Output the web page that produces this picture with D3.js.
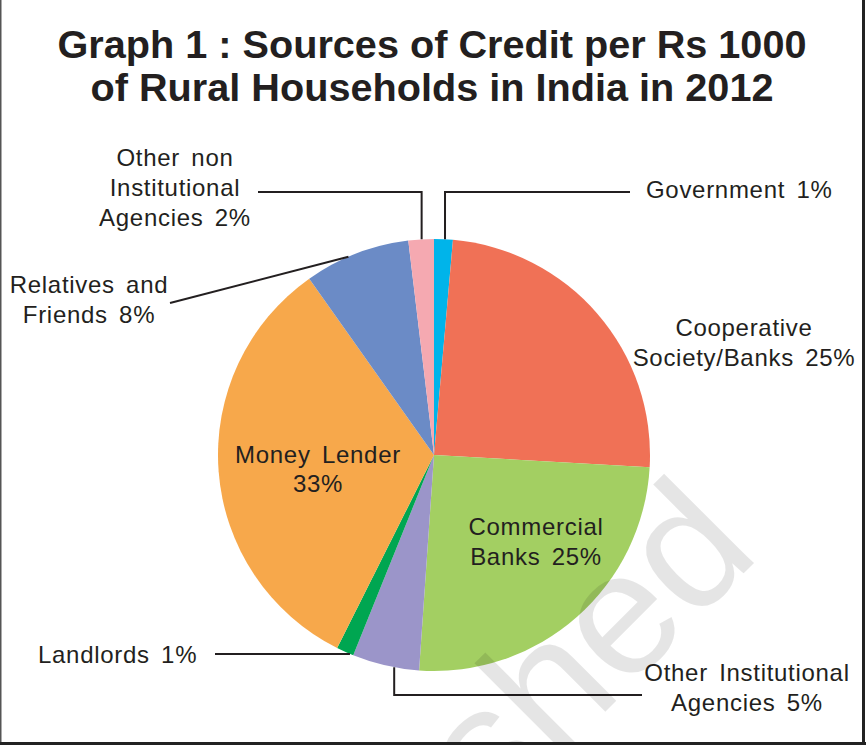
<!DOCTYPE html>
<html>
<head>
<meta charset="utf-8">
<script src="https://cdn.jsdelivr.net/npm/d3@7"></script>
<style>
  html, body { margin: 0; padding: 0; background: #fff; }
  svg { display: block; }
</style>
</head>
<body>
<div id="visualization"></div>
<script>
// data (slice sizes in %, labels as printed)
const categories = ["Government", "Cooperative Society/Banks", "Commercial Banks", "Other Institutional Agencies",
  "Landlords", "Money Lender", "Relatives and Friends", "Other non Institutional Agencies"];
const shares = [1.4, 24.5, 25.2, 5.0, 1.3, 32.8, 7.9, 1.9];
const labelLines = [
  ["Government 1%"],
  ["Cooperative", "Society/Banks 25%"],
  ["Commercial", "Banks 25%"],
  ["Other Institutional", "Agencies 5%"],
  ["Landlords 1%"],
  ["Money Lender", "33%"],
  ["Relatives and", "Friends 8%"],
  ["Other non", "Institutional", "Agencies 2%"]
];
const titleLines = ["Graph 1 : Sources of Credit per Rs 1000", "of Rural Households in India in 2012"];

const colors = ["#00b4ea", "#f07156", "#a3cf62", "#9b95c9", "#00a651", "#f7a84b", "#6b8bc6", "#f5a9b1"];

// label placement
const labelLayout = [
  { x: 646, y: 198, anchor: "start", leader: "vh", frac: 0.58, elbowY: 192, endX: 630 },
  { x: 744, y: 336, anchor: "middle" },
  { x: 536, y: 535, anchor: "middle" },
  { x: 747, y: 681, anchor: "middle", leader: "vh", frac: 0.37, elbowY: 695, endX: 642 },
  { x: 38, y: 663, anchor: "start", leader: "h", frac: 0.2, endX: 215 },
  { x: 318, y: 463, anchor: "middle", lh: 29 },
  { x: 89, y: 293, anchor: "middle", leader: "line", frac: 0.42, endX: 170, endY: 303 },
  { x: 175, y: 166, anchor: "middle", leader: "vh", frac: 0.52, elbowY: 192, endX: 258 }
];

const W = 866, H = 745;
const cx = 434, cy = 455, radius = 216;
const ink = "#231f20";

const svg = d3.select("#visualization")
  .append("svg")
  .attr("width", W)
  .attr("height", H)
  .style("font-family", "'Liberation Sans', Arial, Helvetica, sans-serif");

svg.append("rect").attr("width", W).attr("height", H).attr("fill", "#fff");

// title
svg.append("g")
  .selectAll("text")
  .data(titleLines)
  .join("text")
  .attr("x", 432)
  .attr("y", (d, i) => 58 + i * 43)
  .attr("text-anchor", "middle")
  .attr("font-size", 38)
  .attr("font-weight", "bold")
  .attr("fill", ink)
  .attr("textLength", (d, i) => i === 0 ? 749 : 683)
  .attr("lengthAdjust", "spacingAndGlyphs")
  .text(d => d);

// pie
const pie = d3.pie().sort(null).value(d => d)(shares);
const arc = d3.arc().innerRadius(0).outerRadius(radius);

const g = svg.append("g").attr("transform", `translate(${cx},${cy})`);
g.selectAll("path")
  .data(pie)
  .join("path")
  .attr("d", arc)
  .attr("fill", (d, i) => colors[i]);

// leader lines
const edgePoint = (d, frac) => {
  const a = d.startAngle + (d.endAngle - d.startAngle) * frac;
  return [cx + radius * Math.sin(a), cy - radius * Math.cos(a)];
};

const leaders = svg.append("g")
  .attr("fill", "none")
  .attr("stroke", ink)
  .attr("stroke-width", 2);

labelLayout.forEach((l, i) => {
  if (!l.leader) return;
  const [ex, ey] = edgePoint(pie[i], l.frac);
  let pts;
  if (l.leader === "vh") pts = [[ex, ey], [ex, l.elbowY], [l.endX, l.elbowY]];
  else if (l.leader === "h") pts = [[ex, ey], [l.endX, ey]];
  else pts = [[ex, ey], [l.endX, l.endY]];
  leaders.append("path").attr("d", d3.line()(pts));
});

// labels
const labels = svg.append("g")
  .attr("font-size", 24)
  .attr("fill", ink)
  .attr("letter-spacing", 0.7)
  .attr("word-spacing", 4);

labelLayout.forEach((l, i) => {
  const t = labels.append("text")
    .attr("text-anchor", l.anchor);
  labelLines[i].forEach((line, j) => {
    t.append("tspan")
      .attr("x", l.x)
      .attr("y", l.y + j * (l.lh || 30))
      .text(line);
  });
});

// faint watermark
svg.append("text")
  .attr("transform", "translate(762,555) rotate(-45)")
  .attr("text-anchor", "end")
  .attr("font-size", 175)
  .attr("fill", "#000")
  .attr("fill-opacity", 0.1)
  .text("published");

// frame
svg.append("line").attr("x1", 0.75).attr("x2", 0.75).attr("y1", 0).attr("y2", H)
  .attr("stroke", "#555").attr("stroke-width", 1.5);
svg.append("line").attr("x1", 863.5).attr("x2", 863.5).attr("y1", 0).attr("y2", H)
  .attr("stroke", "#222").attr("stroke-width", 3);
svg.append("line").attr("x1", 0).attr("x2", W).attr("y1", 743.5).attr("y2", 743.5)
  .attr("stroke", "#222").attr("stroke-width", 3);
</script>
</body>
</html>
